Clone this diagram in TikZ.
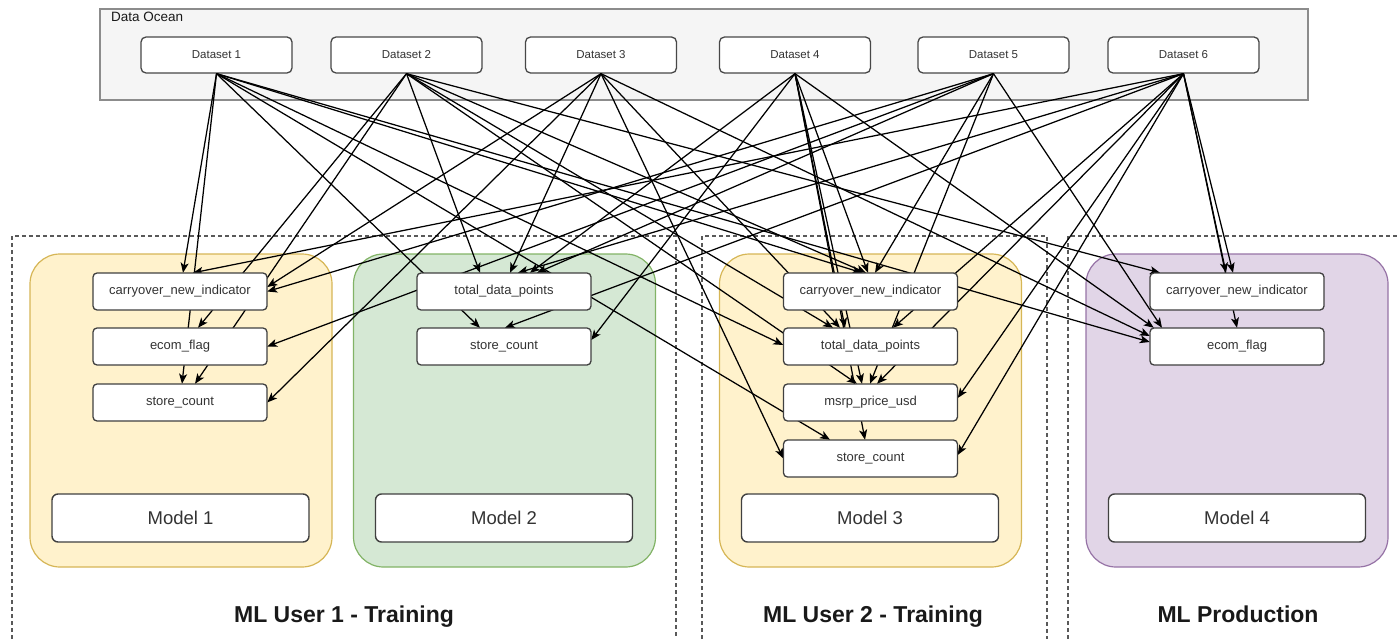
\documentclass[tikz,border=0pt]{standalone}
\usepackage{fontspec}
\setmainfont{Liberation Sans}
\usetikzlibrary{arrows.meta}
\definecolor{oceanfill}{HTML}{F5F5F5}
\definecolor{oceanline}{HTML}{8C8C8C}
\definecolor{ylwfill}{HTML}{FFF2CC}
\definecolor{ylwline}{HTML}{D6B656}
\definecolor{grnfill}{HTML}{D5E8D4}
\definecolor{grnline}{HTML}{82B366}
\definecolor{prpfill}{HTML}{E1D5E7}
\definecolor{prpline}{HTML}{9673A6}
\definecolor{txtgray}{HTML}{333333}
\begin{document}
\begin{tikzpicture}[x=1pt,y=-1pt,
  ocean/.style={draw=oceanline, fill=oceanfill, line width=1.2pt, minimum width=1208pt, minimum height=91pt, inner sep=0pt},
  ds/.style={draw=black!72, fill=white, line width=1.3pt, rounded corners=5pt, minimum width=151pt, minimum height=36pt, inner sep=0pt, text=txtgray, font=\fontsize{11.5}{13}\selectfont},
  feat/.style={draw=black!75, fill=white, line width=1.3pt, rounded corners=4pt, minimum width=174pt, minimum height=37pt, inner sep=0pt, text=txtgray, font=\fontsize{13}{15}\selectfont},
  modelbox/.style={draw=black!75, fill=white, line width=1.4pt, rounded corners=6pt, minimum width=257pt, minimum height=48pt, inner sep=0pt, text=txtgray, font=\fontsize{18.5}{21}\selectfont},
  panel/.style={line width=1.2pt, rounded corners=30pt, minimum width=302pt, minimum height=313pt, inner sep=0pt},
  region/.style={draw=black!65, line width=1.1pt, dash pattern=on 4pt off 3pt},
  edge/.style={draw=black, line width=1.25pt, -{Stealth[length=10pt,width=8pt,inset=2.5pt]}},
  lbl/.style={font=\fontsize{23}{26}\selectfont\bfseries, text=black!90, anchor=base, inner sep=0pt}
]
\useasboundingbox (0,0) rectangle (1400,639);

% Data Ocean
\node[ocean] (ocean) at (704,54.5) {};
\node[anchor=north west, font=\fontsize{13.5}{15}\selectfont, text=black!90, inner sep=0pt] (oceanlbl) at (111,12) {Data Ocean};
\node[ds] (d1) at (216.5,55) {Dataset 1};
\node[ds] (d2) at (406.5,55) {Dataset 2};
\node[ds] (d3) at (601,55) {Dataset 3};
\node[ds] (d4) at (795,55) {Dataset 4};
\node[ds] (d5) at (993.5,55) {Dataset 5};
\node[ds] (d6) at (1183.5,55) {Dataset 6};

% dashed regions
\coordinate (r1a) at (12,639); \coordinate (r1b) at (12,236); \coordinate (r1c) at (676,236); \coordinate (r1d) at (676,639);
\coordinate (r2a) at (702,639); \coordinate (r2b) at (702,236); \coordinate (r2c) at (1047,236); \coordinate (r2d) at (1047,639);
\coordinate (r3a) at (1068,639); \coordinate (r3b) at (1068,236); \coordinate (r3c) at (1400,236);
\draw[region] (r1a) -- (r1b) -- (r1c) -- (r1d);
\draw[region] (r2a) -- (r2b) -- (r2c) -- (r2d);
\draw[region] (r3a) -- (r3b) -- (r3c);

% panels
\node[panel, draw=ylwline, fill=ylwfill] (p1) at (181,410.5) {};
\node[panel, draw=grnline, fill=grnfill] (p2) at (504.5,410.5) {};
\node[panel, draw=ylwline, fill=ylwfill] (p3) at (870.5,410.5) {};
\node[panel, draw=prpline, fill=prpfill] (p4) at (1237,410.5) {};

% feature positions
\path (180,291.5) coordinate (c1pos) (180,346.5) coordinate (e1pos) (180,402.5) coordinate (s1pos)
      (504,291.5) coordinate (t2pos) (504,346.5) coordinate (st2pos)
      (870.5,291.5) coordinate (c3pos) (870.5,346.5) coordinate (t3pos) (870.5,402.5) coordinate (m3pos) (870.5,458.5) coordinate (s3pos)
      (1237,291.5) coordinate (c4pos) (1237,346.5) coordinate (e4pos);

% invisible placeholders naming the features for edge routing
\begin{scope}[every node/.style={minimum width=174pt, minimum height=37pt, inner sep=0pt}]
\node (c1) at (c1pos) {}; \node (e1) at (e1pos) {}; \node (s1) at (s1pos) {};
\node (t2) at (t2pos) {}; \node (st2) at (st2pos) {};
\node (c3) at (c3pos) {}; \node (t3) at (t3pos) {}; \node (m3) at (m3pos) {}; \node (s3) at (s3pos) {};
\node (c4) at (c4pos) {}; \node (e4) at (e4pos) {};
\end{scope}

% edges from Dataset 1
\draw[edge] (d1.south) -- ([xshift=3pt]c1.north);
\draw[edge] (d1.south) -- ([xshift=2pt]s1.north);
\draw[edge] (d1.south) -- ([xshift=-24pt]st2.north);
\draw[edge] (d1.south) -- ([xshift=-8.5pt]c3.north);
\draw[edge] (d1.south) -- ([yshift=1.5pt]t3.west);
\draw[edge] (d1.south) -- ([xshift=-40.5pt]s3.north);
\draw[edge] (d1.south) -- ([yshift=4.5pt]e4.west);
% Dataset 2
\draw[edge] (d2.south) -- ([xshift=18pt]e1.north);
\draw[edge] (d2.south) -- ([xshift=15pt]s1.north);
\draw[edge] (d2.south) -- ([xshift=-24pt]t2.north);
\draw[edge] (d2.south) -- ([xshift=-37.5pt]t3.north);
\draw[edge] (d2.south) -- ([xshift=-13.5pt]m3.north);
\draw[edge] (d2.south) -- ([xshift=-4.5pt]c3.north);
\draw[edge] (d2.south) -- ([xshift=-77pt]c4.north);
% Dataset 3
\draw[edge] (d3.south) -- (s1.east);
\draw[edge] (d3.south) -- ([yshift=4.5pt]c1.east);
\draw[edge] (d3.south) -- ([xshift=6pt]t2.north);
\draw[edge] (d3.south) -- (s3.west);
\draw[edge] (d3.south) -- ([xshift=-30.5pt]t3.north);
\draw[edge] (d3.south) -- ([yshift=10.5pt]e4.west);
% Dataset 4
\draw[edge] (d4.south) -- ([yshift=6.5pt]st2.east);
\draw[edge] (d4.south) -- ([xshift=26pt]t2.north);
\draw[edge] (d4.south) -- ([xshift=-2.5pt]c3.north);
\draw[edge] (d4.south) -- ([xshift=-25.5pt]t3.north);
\draw[edge] (d4.south) -- ([xshift=-8.5pt]m3.north);
\draw[edge] (d4.south) -- ([xshift=-5.5pt]s3.north);
\draw[edge] (d4.south) -- ([xshift=4pt]e4.north west);
% Dataset 5
\draw[edge] (d5.south) -- (c1.east);
\draw[edge] (d5.south) -- (e1.east);
\draw[edge] (d5.south) -- ([xshift=33pt]t2.north);
\draw[edge] (d5.south) -- ([xshift=4.5pt]c3.north);
\draw[edge] (d5.south) -- ([xshift=-0.5pt]m3.north);
\draw[edge] (d5.south) -- ([xshift=-75pt]e4.north);
% Dataset 6
\draw[edge] (d6.south) -- ([xshift=13pt]c1.north);
\draw[edge] (d6.south) -- ([xshift=14pt]t2.north);
\draw[edge] (d6.south) -- ([xshift=1pt]st2.north);
\draw[edge] (d6.south) -- ([xshift=-11pt]c4.north);
\draw[edge] (d6.south) -- ([xshift=-4pt]c4.north);
\draw[edge] (d6.south) -- (e4.north);
\draw[edge] (d6.south) -- ([xshift=22.5pt]t3.north);
\draw[edge] (d6.south) -- ([xshift=6.5pt]m3.north);
\draw[edge] (d6.south) -- ([yshift=4.5pt]m3.east);
\draw[edge] (d6.south) -- ([yshift=3.5pt]s3.east);

% feature boxes (drawn over edges)
\node[feat] (c1box) at (c1pos) {carryover\_new\_indicator};
\node[feat] (e1box) at (e1pos) {ecom\_flag};
\node[feat] (s1box) at (s1pos) {store\_count};
\node[feat] (t2box) at (t2pos) {total\_data\_points};
\node[feat] (st2box) at (st2pos) {store\_count};
\node[feat] (c3box) at (c3pos) {carryover\_new\_indicator};
\node[feat] (t3box) at (t3pos) {total\_data\_points};
\node[feat] (m3box) at (m3pos) {msrp\_price\_usd};
\node[feat] (s3box) at (s3pos) {store\_count};
\node[feat] (c4box) at (c4pos) {carryover\_new\_indicator};
\node[feat] (e4box) at (e4pos) {ecom\_flag};

% model boxes
\node[modelbox] (mo1) at (180.5,518) {Model 1};
\node[modelbox] (mo2) at (504,518) {Model 2};
\node[modelbox] (mo3) at (870,518) {Model 3};
\node[modelbox] (mo4) at (1237,518) {Model 4};

% region labels
\node[lbl] (l1) at (344,622) {ML User 1 - Training};
\node[lbl] (l2) at (873,622) {ML User 2 - Training};
\node[lbl] (l3) at (1238,622) {ML Production};
\end{tikzpicture}
\end{document}
